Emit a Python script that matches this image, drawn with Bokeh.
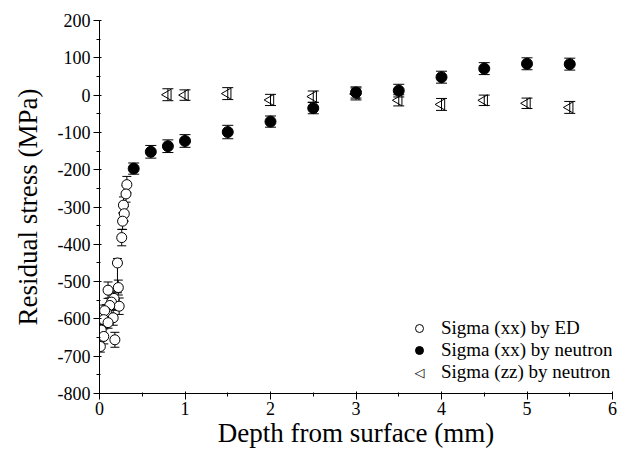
import numpy as np
from bokeh.plotting import figure
from bokeh.models import (ColumnDataSource, Whisker, TeeHead, Range1d, FixedTicker, Legend,
                          LegendItem, Label)
from bokeh.embed import file_html
from bokeh.resources import INLINE

# ---- data ----
ed_x = [0.32, 0.31, 0.28, 0.29, 0.27, 0.26, 0.21, 0.22, 0.10, 0.17, 0.14, 0.23, 0.12, 0.08,
        0.06, 0.16, 0.05, 0.10, 0.02, 0.05, 0.18, 0.01]
ed_y = [-240, -265, -295, -318, -338, -382, -450, -516, -523, -545, -555, -566, -564, -582,
        -578, -597, -602, -610, -630, -647, -656, -674]
ed_err_lo = [22, 22, 22, 20, 22, 22, 80, 20, 22, 20, 20, 22, 20, 20, 15, 20, 20, 15, 15, 20, 20, 15]
ed_err_hi = [22, 22, 22, 20, 22, 22, 12, 20, 22, 20, 20, 22, 20, 20, 15, 20, 20, 15, 15, 20, 20, 15]
ed_xerr = [0.04, 0.04, 0.04, 0.04, 0.04, 0.04, 0.0, 0.04, 0.04, 0.04, 0.04, 0.04, 0.04, 0.04,
           0.07, 0.04, 0.04, 0.04, 0.03, 0.04, 0.04, 0.03]

nxx_x = [0.4, 0.6, 0.8, 1.0, 1.5, 2.0, 2.5, 3.0, 3.5, 4.0, 4.5, 5.0, 5.5]
nxx_y = [-197, -152, -137, -123, -99, -71, -35, 7, 12, 48, 71, 84, 83]
nxx_err = [15, 17, 17, 17, 18, 15, 15, 15, 17, 16, 16, 16, 16]

nzz_x = [0.8, 1.0, 1.5, 2.0, 2.5, 3.0, 3.5, 4.0, 4.5, 5.0, 5.5]
nzz_y = [1, 0, 4, -13, -4, 3, -14, -25, -14, -22, -33]
nzz_err = [16, 14, 16, 15, 15, 16, 15, 16, 14, 14, 16]

x_ticks = [0, 1, 2, 3, 4, 5, 6]
y_ticks = [-800, -700, -600, -500, -400, -300, -200, -100, 0, 100, 200]
y_tick_labels = ["-800", "-700", "-600", "-500", "-400", "-300", "-200", "-100", "0", "100", "200"]
legend_labels = ["Sigma (xx) by ED", "Sigma (xx) by neutron", "Sigma (zz) by neutron"]

FONT = "Liberation Serif"

p = figure(width=634, height=450, output_backend="svg", toolbar_location=None,
           x_range=Range1d(0, 6), y_range=Range1d(-800, 200),
           min_border_left=99, min_border_top=20, min_border_right=22, min_border_bottom=57)
p.outline_line_color = None
p.xgrid.visible = False
p.ygrid.visible = False
p.background_fill_color = "white"

for ax in (p.xaxis[0], p.yaxis[0]):
    ax.axis_line_color = "black"
    ax.major_tick_line_color = "black"
    ax.minor_tick_line_color = "black"
    ax.major_label_text_font = FONT
    ax.major_label_text_font_size = "18px"
    ax.major_label_text_color = "black"
    ax.axis_label_text_font = FONT
    ax.axis_label_text_font_size = "27px"
    ax.axis_label_text_font_style = "normal"
    ax.axis_label_text_color = "black"
    ax.major_tick_out = 6
    ax.major_tick_in = 2
    ax.minor_tick_out = 3
    ax.minor_tick_in = 1

p.xaxis.ticker = FixedTicker(ticks=x_ticks, minor_ticks=list(np.arange(0, 6.01, 0.5)))
p.yaxis.ticker = FixedTicker(ticks=y_ticks, minor_ticks=list(range(-800, 201, 50)))
p.yaxis.major_label_overrides = {t: l for t, l in zip(y_ticks, y_tick_labels)}
p.xaxis.axis_label = "Depth from surface (mm)"
p.yaxis.axis_label = "Residual stress (MPa)"
p.xaxis.major_label_standoff = 2
p.xaxis.axis_label_standoff = 0
p.yaxis.major_label_standoff = 3
p.yaxis.axis_label_standoff = 12

ed_src = ColumnDataSource(dict(
    x=ed_x, y=ed_y,
    lo=[y - e for y, e in zip(ed_y, ed_err_lo)],
    hi=[y + e for y, e in zip(ed_y, ed_err_hi)],
    xl=[x - e for x, e in zip(ed_x, ed_xerr)],
    xu=[x + e for x, e in zip(ed_x, ed_xerr)],
))
nxx_src = ColumnDataSource(dict(
    x=nxx_x, y=nxx_y,
    lo=[y - e for y, e in zip(nxx_y, nxx_err)],
    hi=[y + e for y, e in zip(nxx_y, nxx_err)],
))
nzz_src = ColumnDataSource(dict(
    x=nzz_x, y=nzz_y,
    lo=[y - e for y, e in zip(nzz_y, nzz_err)],
    hi=[y + e for y, e in zip(nzz_y, nzz_err)],
))

def vwhisk(src, size):
    w = Whisker(source=src, base="x", upper="hi", lower="lo", dimension="height",
                line_color="black", line_width=1,
                upper_head=TeeHead(size=size, line_color="black", line_width=1),
                lower_head=TeeHead(size=size, line_color="black", line_width=1),
                level="underlay")
    p.add_layout(w)

vwhisk(ed_src, 9)
vwhisk(nxx_src, 11)
vwhisk(nzz_src, 11)
hw = Whisker(source=ed_src, base="y", upper="xu", lower="xl", dimension="width",
             line_color="black", line_width=1,
             upper_head=TeeHead(size=7, line_color="black", line_width=1),
             lower_head=TeeHead(size=7, line_color="black", line_width=1),
             level="underlay")
p.add_layout(hw)

r_ed = p.scatter("x", "y", source=ed_src, marker="circle", size=10,
                 fill_color="white", line_color="black", line_width=1)
r_nxx = p.scatter("x", "y", source=nxx_src, marker="circle", size=11,
                  fill_color="black", line_color="black", line_width=1)
r_nzz = p.scatter("x", "y", source=nzz_src, marker="triangle", size=11, angle=np.pi / 2,
                  fill_color="white", fill_alpha=0.0, line_color="black", line_width=1)
# invisible stand-in so the legend row keeps its slot (legend glyphs ignore rotation)
r_nzz_leg = p.scatter("x", "y", source=nzz_src, marker="triangle", size=11,
                      fill_alpha=0.0, line_alpha=0.0)

legend = Legend(items=[
    LegendItem(label=legend_labels[0], renderers=[r_ed]),
    LegendItem(label=legend_labels[1], renderers=[r_nxx]),
    LegendItem(label=legend_labels[2], renderers=[r_nzz_leg]),
], location=(310, 10))
legend.label_text_font = FONT
legend.label_text_font_size = "19px"
legend.label_text_color = "black"
legend.border_line_color = None
legend.background_fill_alpha = 0
legend.padding = 0
legend.margin = 0
legend.spacing = 0
legend.glyph_width = 20
legend.glyph_height = 20
legend.label_height = 20
legend.label_standoff = 12
p.add_layout(legend, "center")

tri = Label(x=320, y=21, x_units="screen", y_units="screen", text="◁",
            text_font="DejaVu Sans", text_font_size="13px", text_color="black",
            text_align="center", text_baseline="middle")
p.add_layout(tri)

open("out.html", "w").write(file_html(p, INLINE))
